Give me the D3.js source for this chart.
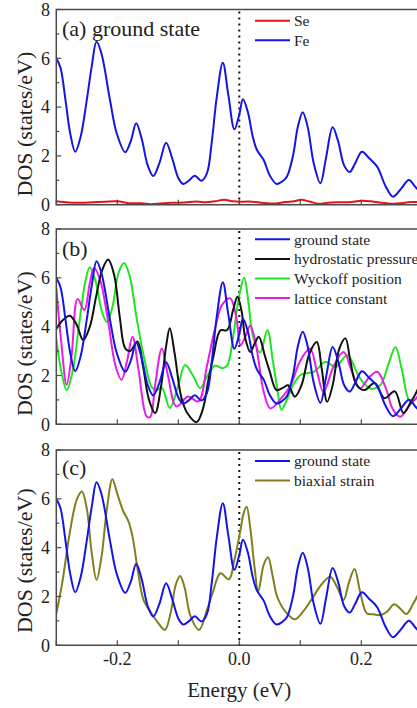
<!DOCTYPE html>
<html>
<head>
<meta charset="utf-8">
<script src="https://cdn.jsdelivr.net/npm/d3@7/dist/d3.min.js"></script>
<style>
  html, body { margin: 0; padding: 0; background: #fff; }
  svg { display: block; }
  text { font-family: "Liberation Serif", "Times New Roman", serif; fill: #222; }
</style>
</head>
<body>
<svg id="chart" width="417" height="708"></svg>
<script>
// ---- data: energy (eV) vs DOS (states/eV) ----
const groundE   = [-0.300,-0.293,-0.285,-0.277,-0.269,-0.260,-0.250,-0.242,-0.234,-0.226,-0.212,-0.201,-0.187,-0.178,-0.169,-0.160,-0.150,-0.141,-0.131,-0.120,-0.110,-0.100,-0.092,-0.082,-0.073,-0.062,-0.053,-0.045,-0.037,-0.027,-0.018,-0.008,0.000,0.006,0.014,0.022,0.029,0.040,0.050,0.061,0.070,0.078,0.088,0.096,0.104,0.112,0.122,0.133,0.142,0.153,0.162,0.172,0.181,0.190,0.201,0.213,0.226,0.240,0.252,0.265,0.278,0.288,0.295,0.300];
const groundDOS = [6.00,5.60,4.30,2.90,2.17,2.80,4.30,5.66,6.68,6.20,4.29,2.93,2.15,2.60,3.34,2.70,1.60,1.18,1.70,2.54,1.90,1.10,0.85,1.00,1.19,0.98,1.29,2.60,4.40,5.82,4.50,3.09,3.70,4.32,3.80,2.80,2.24,1.83,1.20,0.85,0.95,1.15,2.00,3.20,3.79,3.20,1.70,0.88,1.90,3.17,2.60,1.60,1.34,1.70,2.17,1.90,1.56,0.75,0.33,0.65,1.01,0.75,0.55,0.45];

const seE   = [-0.300,-0.280,-0.260,-0.240,-0.220,-0.200,-0.180,-0.160,-0.145,-0.130,-0.110,-0.090,-0.070,-0.055,-0.040,-0.025,-0.010,0.000,0.015,0.030,0.045,0.060,0.075,0.090,0.102,0.115,0.130,0.145,0.160,0.180,0.200,0.215,0.230,0.250,0.265,0.280,0.300];
const seDOS = [0.14,0.09,0.08,0.10,0.12,0.14,0.06,0.06,0.02,0.05,0.08,0.09,0.13,0.10,0.14,0.20,0.14,0.12,0.13,0.10,0.06,0.05,0.11,0.14,0.20,0.13,0.04,0.08,0.10,0.10,0.16,0.14,0.09,0.04,0.06,0.11,0.10];

const hydroE   = [-0.300,-0.290,-0.278,-0.267,-0.256,-0.245,-0.235,-0.225,-0.215,-0.205,-0.196,-0.187,-0.179,-0.167,-0.158,-0.148,-0.138,-0.128,-0.120,-0.114,-0.106,-0.095,-0.085,-0.070,-0.060,-0.050,-0.042,-0.031,-0.020,-0.010,-0.003,0.004,0.010,0.018,0.025,0.032,0.042,0.050,0.061,0.072,0.080,0.091,0.102,0.115,0.127,0.135,0.144,0.153,0.164,0.174,0.182,0.192,0.205,0.222,0.238,0.255,0.269,0.281,0.291,0.300];
const hydroDOS = [3.90,4.25,4.45,4.10,3.45,4.00,5.20,6.30,6.75,6.10,4.40,3.11,3.00,3.39,2.40,1.00,0.46,1.60,3.20,3.93,2.90,1.10,0.45,0.09,0.60,1.90,2.83,3.85,3.86,4.70,5.22,4.60,3.50,2.96,3.30,3.59,2.80,2.15,1.40,1.50,1.60,1.13,1.60,2.90,3.37,2.30,0.92,1.60,3.10,3.52,2.60,1.62,1.40,1.69,1.07,1.35,0.46,0.90,1.35,1.90];

const wyckE   = [-0.300,-0.292,-0.283,-0.273,-0.262,-0.252,-0.245,-0.236,-0.225,-0.217,-0.208,-0.198,-0.189,-0.180,-0.168,-0.155,-0.143,-0.135,-0.127,-0.114,-0.100,-0.089,-0.076,-0.064,-0.052,-0.040,-0.028,-0.020,-0.010,0.000,0.008,0.015,0.022,0.034,0.046,0.055,0.062,0.069,0.078,0.088,0.101,0.123,0.141,0.158,0.177,0.198,0.215,0.231,0.245,0.256,0.266,0.280,0.291,0.300];
const wyckDOS = [3.50,2.20,1.40,2.20,4.20,5.90,6.43,5.90,4.60,4.19,4.80,6.20,6.61,6.10,4.30,2.60,1.50,1.40,1.50,0.67,1.60,2.43,2.00,1.48,2.00,2.40,2.30,2.40,3.60,5.30,6.00,5.00,3.65,2.94,3.85,2.60,1.50,0.60,1.00,1.60,2.03,2.16,2.56,2.35,2.83,1.88,1.47,1.60,2.50,3.17,2.30,0.92,1.07,1.40];

const latE   = [-0.300,-0.292,-0.283,-0.275,-0.265,-0.254,-0.245,-0.238,-0.228,-0.215,-0.203,-0.193,-0.184,-0.175,-0.165,-0.152,-0.146,-0.138,-0.127,-0.117,-0.103,-0.084,-0.067,-0.053,-0.040,-0.028,-0.015,-0.005,0.002,0.010,0.018,0.027,0.040,0.051,0.069,0.084,0.100,0.116,0.127,0.138,0.155,0.171,0.184,0.198,0.212,0.226,0.240,0.252,0.264,0.278,0.290,0.300];
const latDOS = [5.60,3.40,1.62,2.80,5.13,4.68,5.80,6.40,5.90,4.20,2.40,1.82,2.60,3.59,2.20,0.33,0.30,1.60,3.11,2.00,0.73,1.14,0.94,2.40,3.90,4.90,5.16,4.40,3.24,3.60,4.05,3.30,1.33,0.65,1.07,1.60,2.60,3.10,2.20,1.33,2.40,2.96,2.20,1.47,1.90,2.15,1.50,0.60,0.31,0.75,1.07,1.40];

const biaxE   = [-0.300,-0.290,-0.278,-0.266,-0.258,-0.250,-0.242,-0.234,-0.226,-0.217,-0.208,-0.200,-0.190,-0.182,-0.175,-0.166,-0.157,-0.144,-0.134,-0.122,-0.112,-0.104,-0.097,-0.090,-0.080,-0.066,-0.053,-0.043,-0.031,-0.017,-0.008,0.002,0.007,0.012,0.018,0.025,0.031,0.040,0.047,0.055,0.062,0.075,0.091,0.105,0.118,0.135,0.149,0.160,0.171,0.180,0.189,0.198,0.209,0.220,0.232,0.243,0.254,0.264,0.274,0.285,0.294,0.300];
const biaxDOS = [1.30,2.60,4.60,6.00,6.30,5.60,3.80,2.68,3.60,5.60,6.80,6.20,5.48,5.10,4.45,3.00,1.86,1.31,0.95,0.63,1.40,2.50,2.84,2.40,1.20,0.63,1.45,2.20,2.95,2.70,3.50,4.73,5.40,5.68,4.80,3.20,2.20,3.30,3.61,2.80,2.00,1.40,1.07,1.40,1.86,2.50,2.81,2.40,1.86,2.60,3.13,2.20,1.31,1.27,1.24,1.40,1.68,1.50,1.28,1.70,2.13,2.50];

const xTicks = [-0.3, -0.2, -0.1, 0.0, 0.1, 0.2, 0.3];
const xTickLabels = ["-0.2", "0.0", "0.2"];
const yTicks = [0, 1, 2, 3, 4, 5, 6, 7, 8];
const yTickLabels = ["0", "2", "4", "6", "8"];

const COLORS = { blue: "#1414e6", red: "#e61414", black: "#111111", green: "#1ee61e", magenta: "#e61ee6", olive: "#7f7f1c" };

const panels = [
  { id: "a", top: 9.5, bottom: 204.7, title: "(a) ground state", titleY: 36, yTitleShift: 17,
    series: [ { name: "Se", e: seE, d: seDOS, color: COLORS.red },
              { name: "Fe", e: groundE, d: groundDOS, color: COLORS.blue } ],
    legendY: 20.7 },
  { id: "b", top: 229, bottom: 424.3, title: "(b)", titleY: 256, yTitleShift: 17,
    series: [ { name: "ground state", e: groundE, d: groundDOS, color: COLORS.blue },
              { name: "hydrostatic pressure", e: hydroE, d: hydroDOS, color: COLORS.black },
              { name: "Wyckoff position", e: wyckE, d: wyckDOS, color: COLORS.green },
              { name: "lattice constant", e: latE, d: latDOS, color: COLORS.magenta } ],
    drawOrder: [2, 3, 1, 0],
    legendY: 239.3 },
  { id: "c", top: 450, bottom: 645.3, title: "(c)", titleY: 475, yTitleShift: 13,
    series: [ { name: "ground state", e: groundE, d: groundDOS, color: COLORS.blue },
              { name: "biaxial strain", e: biaxE, d: biaxDOS, color: COLORS.olive } ],
    drawOrder: [1, 0],
    legendY: 461 }
];

const svg = d3.select("#chart");
const xLeft = 56.3, xRight = 422.3;
const x = d3.scaleLinear().domain([-0.3, 0.3]).range([xLeft, xRight]);
const frameColor = "#4a4a4a";

panels.forEach((p, i) => {
  const y = d3.scaleLinear().domain([0, 8]).range([p.bottom, p.top]);
  const g = svg.append("g");

  const clipId = "clip-" + p.id;
  svg.append("clipPath").attr("id", clipId)
    .append("rect").attr("x", xLeft).attr("y", p.top)
    .attr("width", xRight - xLeft).attr("height", p.bottom - p.top);

  // Fermi level
  g.append("line")
    .attr("x1", x(0)).attr("x2", x(0)).attr("y1", p.top + 2).attr("y2", p.bottom)
    .attr("stroke", "#111").attr("stroke-width", 2)
    .attr("stroke-dasharray", "2,4");

  // curves
  const line = d3.line()
    .x(d => x(d[0])).y(d => y(d[1]))
    .curve(d3.curveCatmullRom.alpha(0.5));
  const order = p.drawOrder || p.series.map((_, k) => k);
  const curves = g.append("g").attr("clip-path", `url(#${clipId})`);
  order.forEach(k => {
    const s = p.series[k];
    curves.append("path")
      .datum(d3.zip(s.e, s.d))
      .attr("fill", "none")
      .attr("stroke", s.color)
      .attr("stroke-width", 2)
      .attr("stroke-linejoin", "round")
      .attr("d", line);
  });

  // axes: inward ticks
  const yAxis = d3.axisLeft(y).tickValues(yTicks)
    .tickSize(0).tickFormat("");
  const axG = g.append("g");
  yTicks.forEach(t => {
    const len = t % 2 === 0 ? 5 : 3;
    axG.append("line").attr("x1", xLeft).attr("x2", xLeft + len)
      .attr("y1", y(t)).attr("y2", y(t))
      .attr("stroke", frameColor).attr("stroke-width", 1.2);
  });
  xTicks.forEach(t => {
    axG.append("line").attr("x1", x(t)).attr("x2", x(t))
      .attr("y1", p.bottom).attr("y2", p.bottom - 5)
      .attr("stroke", frameColor).attr("stroke-width", 1.2);
  });

  // frame
  g.append("path")
    .attr("d", `M${xRight},${p.top}H${xLeft}V${p.bottom}H${xRight}V${p.top}`)
    .attr("fill", "none").attr("stroke", frameColor).attr("stroke-width", 1.5);

  // y tick labels
  yTickLabels.forEach(l => {
    g.append("text").attr("x", 50).attr("y", y(+l)).attr("dy", "0.35em")
      .attr("text-anchor", "end").attr("font-size", 18).text(l);
  });

  // y title
  g.append("text")
    .attr("transform", `translate(32,${(p.top + p.bottom) / 2 + p.yTitleShift}) rotate(-90)`)
    .attr("text-anchor", "middle").attr("font-size", 22)
    .text("DOS (states/eV)");

  // panel title
  g.append("text").attr("x", 62).attr("y", p.titleY)
    .attr("font-size", 22).text(p.title);

  // legend
  p.series.forEach((s, k) => {
    const ly = p.legendY + k * 19.6;
    g.append("line").attr("x1", 255).attr("x2", 290).attr("y1", ly).attr("y2", ly)
      .attr("stroke", s.color).attr("stroke-width", 2);
    g.append("text").attr("x", 294).attr("y", ly).attr("dy", "0.35em")
      .attr("font-size", 15.5).text(s.name);
  });

  // x tick labels on bottom panel only
  if (i === panels.length - 1) {
    xTickLabels.forEach(l => {
      g.append("text").attr("x", x(+l)).attr("y", p.bottom + 20)
        .attr("text-anchor", "middle").attr("font-size", 18).text(l);
    });
    g.append("text").attr("x", x(0)).attr("y", 697)
      .attr("text-anchor", "middle").attr("font-size", 21).text("Energy (eV)");
  }
});
</script>
</body>
</html>
